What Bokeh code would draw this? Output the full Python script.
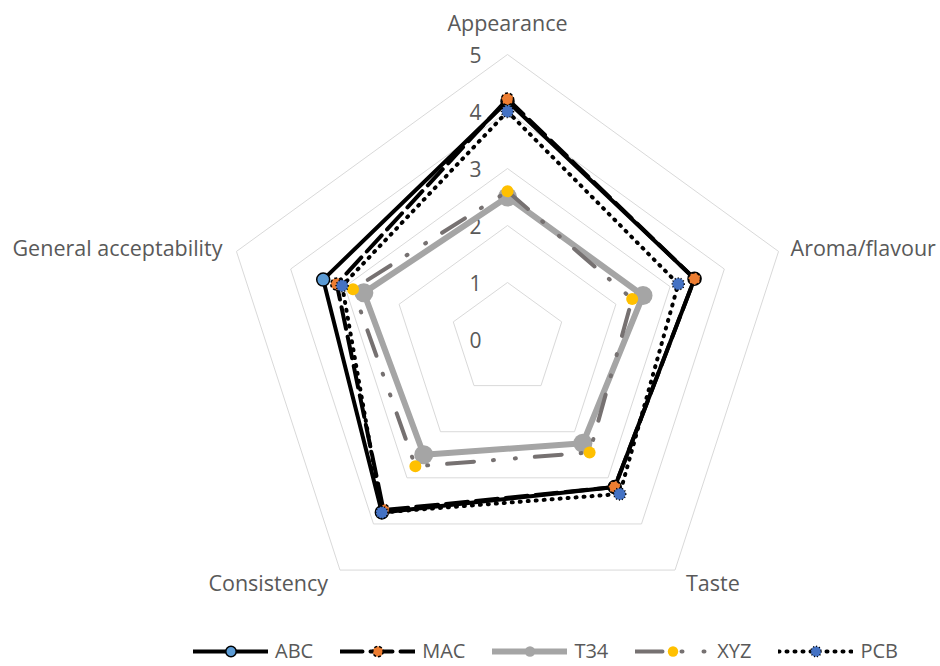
import math
from bokeh.plotting import figure
from bokeh.models import Range1d, Legend, LegendItem, ColumnDataSource
from bokeh.core.properties import value
from bokeh.embed import file_html
from bokeh.resources import INLINE

categories = ["Appearance", "Aroma/flavour", "Taste", "Consistency", "General acceptability"]
abc = [4.18, 3.45, 3.2, 3.75, 3.4]
mac = [4.22, 3.45, 3.2, 3.7, 3.15]
t34 = [2.5, 2.5, 2.25, 2.5, 2.65]
xyz = [2.6, 2.3, 2.45, 2.75, 2.85]
pcb = [4.0, 3.15, 3.35, 3.75, 3.05]
levels = [0, 1, 2, 3, 4, 5]
series_names = ["ABC", "MAC", "T34", "XYZ", "PCB"]

PX = 57.0
CX, CY = 507, 339
W, H = 940, 666
FONT = "Open Sans"
TXT = "#595959"

angles = [math.pi / 2 - i * 2 * math.pi / len(categories) for i in range(len(categories))]


def polar(vals, close=True):
    xs = [v * math.cos(a) for v, a in zip(vals, angles)]
    ys = [v * math.sin(a) for v, a in zip(vals, angles)]
    if close:
        xs = xs + [xs[0]]
        ys = ys + [ys[0]]
    return xs, ys


p = figure(width=W, height=H, output_backend="svg", toolbar_location=None,
           x_axis_type=None, y_axis_type=None, min_border=0,
           x_range=Range1d(-CX / PX, (W - CX) / PX),
           y_range=Range1d(-(H - CY) / PX, CY / PX))
p.outline_line_color = None
p.xgrid.visible = False
p.ygrid.visible = False
p.background_fill_color = "white"
p.border_fill_color = "white"

# grid pentagons
for lv in levels[1:]:
    gx, gy = polar([lv] * len(categories))
    p.line(gx, gy, line_color="#D9D9D9", line_width=1)

# tick labels
p.text(x=[0] * len(levels), y=levels, text=[str(l) for l in levels],
       x_offset=-26, text_align="right", text_baseline="middle",
       text_font=value(FONT), text_font_size="21px", text_color=TXT)

# category labels
cx5, cy5 = polar([5] * len(categories), close=False)
lab_src = ColumnDataSource(dict(
    x=cx5, y=cy5, text=categories,
    xo=[0, 12, 11, -12, -14],
    yo=[-32, -4, 12, 12, -4],
    al=["center", "left", "left", "right", "right"],
))
p.text(x="x", y="y", text="text", x_offset="xo", y_offset="yo", text_align="al",
       text_baseline="middle", text_font=value(FONT), text_font_size="21.5px",
       text_color=TXT, source=lab_src)

styles = {
    "ABC": dict(lc="black", lw=4, dash="solid", mfill="#5B9BD5", mline="black", mdash="solid", ms=13),
    "MAC": dict(lc="black", lw=4, dash="22 8", mfill="#ED7D31", mline="black", mdash="3 2", ms=12),
    "T34": dict(lc="#A5A5A5", lw=6, dash="solid", mfill="#A5A5A5", mline=None, mdash="solid", ms=19),
    "XYZ": dict(lc="#767171", lw=4, dash="27 19 1 21 1 19", mfill="#FFC000", mline=None, mdash="solid", ms=12),
    "PCB": dict(lc="black", lw=4, dash="1 7", mfill="#4472C4", mline="black", mdash="1 2", ms=12),
}
data = {"ABC": abc, "MAC": mac, "T34": t34, "XYZ": xyz, "PCB": pcb}

items = []
for name in series_names:
    st = styles[name]
    xs, ys = polar(data[name])
    lr = p.line(xs, ys, line_color=st["lc"], line_width=st["lw"], line_dash=st["dash"],
                line_join="round", line_cap="round")
    mx, my = polar(data[name], close=False)
    sr = p.scatter(mx, my, marker="circle", size=st["ms"], fill_color=st["mfill"],
                   line_color=st["mline"], line_width=1.5, line_dash=st["mdash"])
    items.append(LegendItem(label=name, renderers=[lr, sr]))

legend = Legend(items=items, orientation="horizontal", location=(193, 2),
                glyph_width=75, glyph_height=26, label_standoff=7, spacing=27,
                padding=0, margin=0, border_line_color=None, background_fill_alpha=0,
                label_text_font=FONT, label_text_font_size="20px", label_text_color=TXT,
                label_height=26, label_text_baseline="middle")
p.add_layout(legend, "center")

open("out.html", "w").write(file_html(p, INLINE))
